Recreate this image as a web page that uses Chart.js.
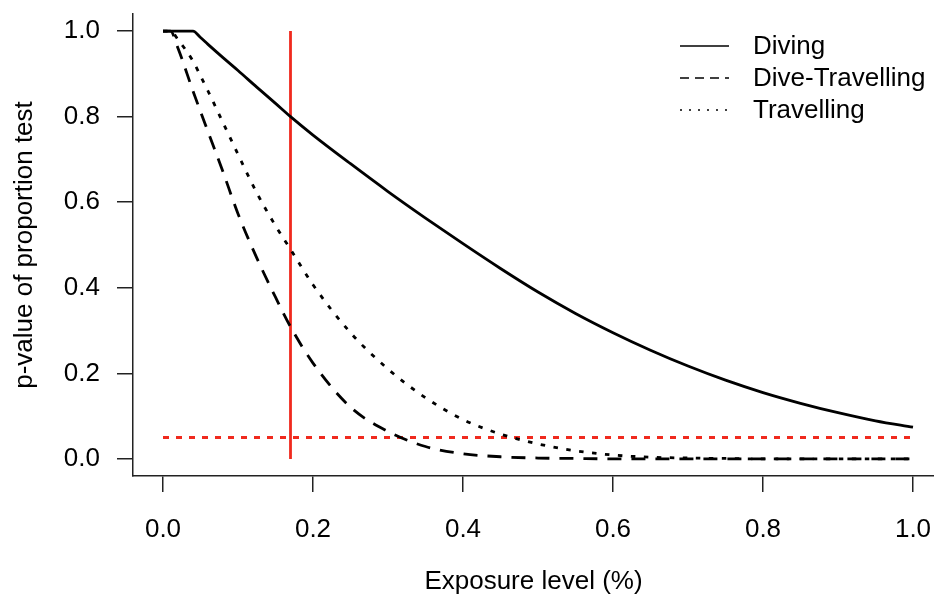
<!DOCTYPE html>
<html>
<head>
<meta charset="utf-8">
<script src="https://cdn.jsdelivr.net/npm/chart.js@4.4.1/dist/chart.umd.min.js"></script>
<style>
  html, body { margin: 0; padding: 0; background: #fff; }
  #wrap { width: 934px; height: 604px; }
</style>
</head>
<body>
<div id="wrap"><canvas id="pplot" width="934" height="604"></canvas></div>
<script>
// values
const exposure = [0, 0.01, 0.02, 0.04, 0.05, 0.06, 0.08, 0.1, 0.125, 0.15, 0.17,
    0.2, 0.25, 0.3, 0.35, 0.4, 0.45, 0.5, 0.55, 0.6, 0.65, 0.7, 0.75, 0.8, 0.85, 0.9, 0.95, 1.0];
const diving = [1, 1, 1, 1, 0.985, 0.969, 0.938, 0.908, 0.869, 0.831, 0.80,
    0.757, 0.69, 0.625, 0.563, 0.503, 0.445, 0.39, 0.34, 0.295, 0.254, 0.217, 0.184, 0.155, 0.13, 0.108, 0.089, 0.074];
const diveTravelling = [1, 1, 0.96, 0.86, 0.812, 0.765, 0.671, 0.573, 0.47, 0.378, 0.309,
    0.224, 0.121, 0.064, 0.029, 0.012, 0.005, 0.002, 0.001, 0, 0, 0, 0, 0, 0, 0, 0, 0];
const travelling = [1, 1, 0.98, 0.93, 0.895, 0.86, 0.786, 0.712, 0.622, 0.545, 0.49,
    0.407, 0.295, 0.21, 0.143, 0.092, 0.058, 0.035, 0.019, 0.009, 0.004, 0.002, 0.001, 0, 0, 0, 0, 0];

const cutoffX = [0.17, 0.17];
const cutoffY = [0, 1];
const alphaX = [0, 1];
const alphaY = [0.05, 0.05];

const xTicks = [0, 0.2, 0.4, 0.6, 0.8, 1.0];
const yTicks = [0, 0.2, 0.4, 0.6, 0.8, 1.0];
const seriesNames = ['Diving', 'Dive-Travelling', 'Travelling'];

const FONT = '"Liberation Sans", Arial, sans-serif';
const RED = '#f02a1e';

function pairs(xs, ys) {
    return xs.map((x, i) => ({ x: x, y: ys[i] }));
}

function curve(label, ys, dash) {
    return {
        label: label,
        data: pairs(exposure, ys),
        borderColor: '#000',
        borderWidth: 2.8,
        borderDash: dash,
        borderCapStyle: 'butt',
        borderJoinStyle: 'round',
        cubicInterpolationMode: 'monotone',
        pointRadius: 0,
        fill: false
    };
}

// R style legend, top right, no box
const legendStyles = [[], [9, 6], [2, 7]];
const rLegend = {
    id: 'rLegend',
    afterDraw(chart) {
        const ctx = chart.ctx;
        ctx.save();
        ctx.font = '26px ' + FONT;
        ctx.textBaseline = 'middle';
        ctx.fillStyle = '#000';
        ctx.strokeStyle = '#000';
        ctx.lineWidth = 1.6;
        seriesNames.forEach((name, i) => {
            const y = 46 + i * 32;
            ctx.setLineDash(legendStyles[i]);
            ctx.beginPath();
            ctx.moveTo(680, y);
            ctx.lineTo(729, y);
            ctx.stroke();
            ctx.fillText(name, 753, y + 1);
        });
        ctx.restore();
    }
};

function noPadding(scale) {
    scale.paddingLeft = 0;
    scale.paddingRight = 0;
    scale.paddingTop = 0;
    scale.paddingBottom = 0;
}

function axisCommon(ticks, titleText, titlePad) {
    return {
        type: 'linear',
        min: -0.04,
        afterBuildTicks: (scale) => { scale.ticks = ticks.map(v => ({ value: v })); },
        border: { display: true, color: '#222', width: 1.5 },
        grid: { drawOnChartArea: false, drawTicks: true, tickLength: 16, color: '#222', lineWidth: 1.5 },
        ticks: {
            color: '#000',
            font: { family: FONT, size: 26 },
            callback: (v) => Number(v).toFixed(1)
        },
        title: {
            display: true,
            text: titleText,
            color: '#000',
            font: { family: FONT, size: 26 },
            padding: titlePad
        }
    };
}

const xAxis = axisCommon(xTicks, 'Exposure level (%)', { top: 0, bottom: 7 });
xAxis.max = 1.028;
xAxis.ticks.padding = 22;
xAxis.ticks.maxRotation = 0;
xAxis.afterFit = (scale) => { scale.height = 128; noPadding(scale); };

const yAxis = axisCommon(yTicks, 'p-value of proportion test', { top: 9, bottom: 0 });
yAxis.max = 1.04;
yAxis.ticks.padding = 17;
yAxis.afterFit = (scale) => { scale.width = 133; noPadding(scale); };

new Chart(document.getElementById('pplot').getContext('2d'), {
    type: 'line',
    data: {
        datasets: [
            curve(seriesNames[0], diving, []),
            curve(seriesNames[1], diveTravelling, [14, 10]),
            curve(seriesNames[2], travelling, [4.5, 8.5]),
            {
                label: 'cutoff',
                data: pairs(cutoffX, cutoffY),
                borderColor: RED,
                borderWidth: 2.8,
                pointRadius: 0
            },
            {
                label: 'alpha',
                data: pairs(alphaX, alphaY),
                borderColor: RED,
                borderWidth: 2.8,
                borderDash: [6, 7],
                borderCapStyle: 'butt',
                pointRadius: 0
            }
        ]
    },
    options: {
        responsive: false,
        animation: false,
        layout: { padding: { top: 14, left: 0, right: 0, bottom: 0 } },
        plugins: {
            legend: { display: false },
            tooltip: { enabled: false }
        },
        scales: { x: xAxis, y: yAxis }
    },
    plugins: [rLegend]
});
</script>
</body>
</html>
